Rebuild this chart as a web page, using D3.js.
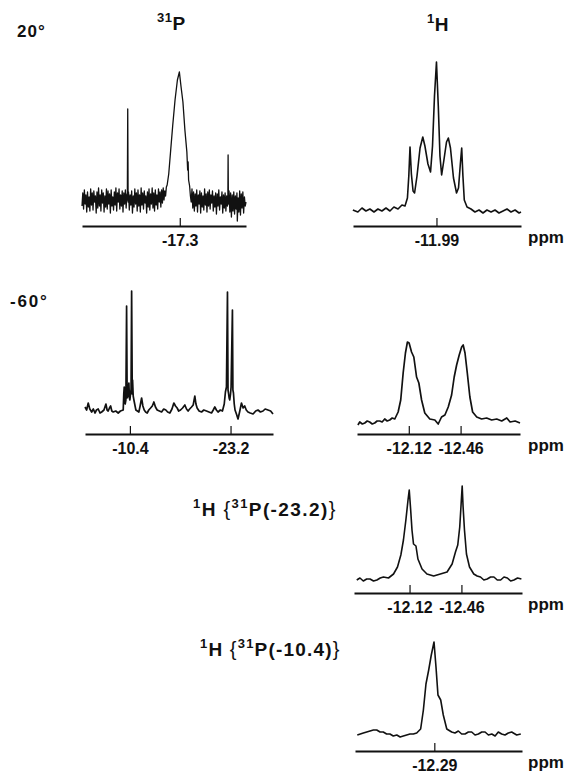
<!DOCTYPE html>
<html>
<head>
<meta charset="utf-8">
<script src="https://cdnjs.cloudflare.com/ajax/libs/d3/7.8.5/d3.min.js"></script>
<style>
  body { margin: 0; background: #fff; }
  svg { display: block; }
  text { font-family: 'Liberation Sans', Arial, sans-serif; font-weight: bold; fill: #111; font-size: 17px; }
  .axis text { font-size: 16px; }
  .axis path.domain { stroke: #111; stroke-width: 2; }
  .axis line { stroke: #111; stroke-width: 1.2; }
  .brace { font-weight: normal; }
</style>
</head>
<body>
<div id="chart"></div>
<script>
// Spectra: [ppm, intensity (a.u.)]

// 31P at 20 deg
var p31Warm = [
  [-4.9, 20], [-5.0, 33], [-5.1, 17], [-5.2, 36], [-5.3, 22], [-5.4, 31], [-5.5, 14], [-5.6, 34],
  [-5.7, 19], [-5.8, 29], [-5.9, 15], [-6.0, 37], [-6.1, 21], [-6.2, 33], [-6.3, 16], [-6.4, 35],
  [-6.5, 24], [-6.6, 30], [-6.7, 13], [-6.8, 34], [-6.9, 18], [-7.0, 38], [-7.1, 20], [-7.2, 31],
  [-7.3, 15], [-7.4, 36], [-7.5, 23], [-7.6, 33], [-7.7, 14], [-7.8, 30], [-7.9, 19], [-8.0, 37],
  [-8.1, 17], [-8.2, 35], [-8.3, 22], [-8.4, 32], [-8.5, 13], [-8.6, 36], [-8.7, 20], [-8.8, 29],
  [-8.9, 16], [-9.0, 34], [-9.1, 21], [-9.2, 38], [-9.3, 15], [-9.4, 33], [-9.5, 24], [-9.6, 37],
  [-9.7, 17], [-9.8, 31], [-9.9, 20], [-10.0, 35], [-10.1, 14], [-10.2, 33], [-10.3, 22], [-10.4, 36],
  [-10.5, 18], [-10.6, 32], [-10.65, 26], [-10.7, 117], [-10.75, 24], [-10.8, 34], [-10.9, 16], [-11.0, 31],
  [-11.1, 21], [-11.2, 35], [-11.3, 13], [-11.4, 30], [-11.5, 19], [-11.6, 37], [-11.7, 22], [-11.8, 33],
  [-11.9, 15], [-12.0, 36], [-12.1, 20], [-12.2, 31], [-12.3, 14], [-12.4, 38], [-12.5, 21], [-12.6, 33],
  [-12.7, 17], [-12.8, 35], [-12.9, 23], [-13.0, 30], [-13.1, 13], [-13.2, 34], [-13.3, 19], [-13.4, 37],
  [-13.5, 16], [-13.6, 32], [-13.7, 22], [-13.8, 38], [-13.9, 18], [-14.0, 33], [-14.1, 15], [-14.2, 36],
  [-14.3, 21], [-14.4, 31], [-14.5, 17], [-14.6, 37], [-14.7, 24], [-14.8, 34], [-14.9, 19], [-15.0, 36],
  [-15.1, 23], [-15.2, 38], [-15.3, 26], [-15.4, 35], [-15.5, 30], [-15.6, 39], [-15.7, 41], [-15.9, 52],
  [-16.15, 76], [-16.4, 100], [-16.7, 126], [-17.0, 146], [-17.25, 154], [-17.45, 140], [-17.7, 124], [-17.95, 96],
  [-18.2, 74], [-18.3, 56], [-18.36, 64], [-18.42, 46], [-18.55, 40], [-18.65, 30], [-18.75, 24], [-18.85, 37],
  [-18.95, 18], [-19.05, 34], [-19.15, 15], [-19.25, 32], [-19.35, 20], [-19.45, 36], [-19.55, 14], [-19.65, 31],
  [-19.75, 22], [-19.85, 35], [-19.95, 13], [-20.05, 33], [-20.15, 19], [-20.25, 30], [-20.35, 16], [-20.45, 37],
  [-20.55, 21], [-20.65, 32], [-20.75, 14], [-20.85, 34], [-20.95, 20], [-21.05, 36], [-21.15, 17], [-21.25, 31],
  [-21.35, 23], [-21.45, 35], [-21.55, 15], [-21.65, 30], [-21.75, 19], [-21.85, 33], [-21.95, 12], [-22.05, 32],
  [-22.15, 20], [-22.25, 36], [-22.35, 16], [-22.45, 29], [-22.55, 22], [-22.65, 34], [-22.75, 13], [-22.85, 31],
  [-22.95, 18], [-23.05, 33], [-23.15, 15], [-23.25, 30], [-23.35, 20], [-23.4, 28], [-23.43, 71], [-23.47, 22],
  [-23.55, 35], [-23.65, 14], [-23.75, 33], [-23.85, 9], [-23.95, 31], [-24.05, 15], [-24.15, 34], [-24.25, 12],
  [-24.35, 30], [-24.45, 17], [-24.55, 33], [-24.6, 5], [-24.7, 28], [-24.8, 14], [-24.9, 35], [-25.0, 11],
  [-25.1, 32], [-25.2, 18], [-25.3, 34], [-25.4, 13], [-25.5, 29], [-25.6, 20], [-25.7, 24]
]
var p31WarmTicks = [-17.3]
var p31WarmLabels = ['-17.3']

// 1H at 20 deg
var h1Warm = [
  [-11.44, 16], [-11.473, 14], [-11.5, 18], [-11.526, 15], [-11.552, 17], [-11.579, 14], [-11.605, 17],
  [-11.631, 15], [-11.658, 18], [-11.684, 15], [-11.71, 19], [-11.737, 17], [-11.763, 21], [-11.783, 20],
  [-11.799, 28], [-11.808, 50], [-11.816, 79], [-11.825, 52], [-11.836, 35], [-11.846, 33], [-11.862, 50],
  [-11.882, 78], [-11.9, 89], [-11.914, 80], [-11.934, 62], [-11.951, 54], [-11.964, 80], [-11.977, 130],
  [-11.99, 164], [-12.002, 120], [-12.013, 70], [-12.024, 51], [-12.039, 66], [-12.056, 84], [-12.068, 88],
  [-12.082, 78], [-12.102, 48], [-12.122, 33], [-12.135, 38], [-12.147, 62], [-12.156, 78], [-12.164, 50],
  [-12.173, 26], [-12.191, 19], [-12.217, 17], [-12.243, 14], [-12.27, 16], [-12.296, 13], [-12.322, 16],
  [-12.349, 14], [-12.375, 16], [-12.401, 13], [-12.428, 15], [-12.454, 17], [-12.48, 14], [-12.507, 16],
  [-12.533, 13], [-12.546, 14]
]
var h1WarmTicks = [-11.99]
var h1WarmLabels = ['-11.99']

// 31P at -60 deg
var p31Cold = [
  [-4.69, 27], [-4.9, 24], [-5.1, 31], [-5.3, 25], [-5.54, 22], [-5.75, 25], [-5.96, 21], [-6.15, 24],
  [-6.37, 25], [-6.6, 21], [-6.81, 22], [-7.1, 24], [-7.35, 30], [-7.5, 24], [-7.64, 23], [-7.8, 26],
  [-7.95, 28], [-8.1, 23], [-8.28, 22], [-8.6, 23], [-8.91, 21], [-9.2, 23], [-9.55, 24], [-9.62, 40],
  [-9.68, 47], [-9.8, 30], [-9.89, 34], [-9.98, 128], [-10.05, 36], [-10.11, 37], [-10.2, 44], [-10.27, 51],
  [-10.34, 36], [-10.4, 34], [-10.55, 45], [-10.62, 143], [-10.7, 40], [-10.74, 54], [-10.82, 38], [-10.91, 34],
  [-11.16, 24], [-11.35, 23], [-11.54, 22], [-11.7, 28], [-11.89, 36], [-12.05, 28], [-12.22, 24], [-12.4, 22],
  [-12.6, 21], [-12.8, 24], [-13.03, 26], [-13.25, 28], [-13.45, 32], [-13.65, 27], [-13.87, 24], [-14.15, 23],
  [-14.43, 22], [-14.7, 25], [-14.97, 24], [-15.2, 22], [-15.48, 21], [-15.75, 25], [-15.99, 31], [-16.2, 28],
  [-16.41, 26], [-16.6, 23], [-16.84, 24], [-17.1, 26], [-17.39, 29], [-17.6, 25], [-17.8, 23], [-18.0, 25],
  [-18.24, 27], [-18.45, 29], [-18.66, 38], [-18.8, 30], [-18.95, 26], [-19.2, 23], [-19.51, 22], [-19.8, 24],
  [-20.14, 23], [-20.45, 22], [-20.78, 21], [-21.0, 24], [-21.2, 27], [-21.4, 24], [-21.61, 22], [-21.9, 24],
  [-22.17, 23], [-22.4, 30], [-22.55, 42], [-22.68, 47], [-22.81, 142], [-22.88, 44], [-22.94, 41], [-23.02, 36],
  [-23.1, 34], [-23.2, 40], [-23.27, 47], [-23.44, 124], [-23.5, 44], [-23.57, 41], [-23.67, 30], [-23.77, 24],
  [-23.95, 20], [-24.15, 15], [-24.35, 22], [-24.59, 31], [-24.8, 26], [-25.0, 28], [-25.2, 24], [-25.42, 22],
  [-25.7, 21], [-26.06, 20], [-26.4, 23], [-26.69, 24], [-27.0, 22], [-27.33, 23], [-27.6, 25], [-27.96, 24],
  [-28.3, 23], [-28.6, 20]
]
var p31ColdTicks = [-10.4, -23.2]
var p31ColdLabels = ['-10.4', '-23.2']

// 1H at -60 deg
var h1Cold = [
  [-11.786, 9], [-11.798, 12], [-11.815, 10], [-11.831, 11], [-11.847, 13], [-11.863, 12], [-11.88, 10],
  [-11.896, 11], [-11.912, 13], [-11.929, 13], [-11.945, 12], [-11.962, 15], [-11.978, 13], [-11.995, 14],
  [-12.011, 16], [-12.028, 15], [-12.05, 22], [-12.067, 34], [-12.083, 61], [-12.098, 81], [-12.111, 92],
  [-12.122, 91], [-12.138, 82], [-12.153, 77], [-12.171, 57], [-12.186, 51], [-12.204, 34], [-12.225, 21],
  [-12.258, 15], [-12.291, 14], [-12.313, 10], [-12.335, 17], [-12.357, 19], [-12.379, 27], [-12.401, 39],
  [-12.418, 57], [-12.434, 69], [-12.451, 79], [-12.467, 87], [-12.477, 89], [-12.489, 81], [-12.504, 61],
  [-12.521, 37], [-12.539, 22], [-12.566, 17], [-12.598, 15], [-12.631, 16], [-12.664, 14], [-12.697, 15],
  [-12.73, 13], [-12.763, 16], [-12.785, 12], [-12.818, 13], [-12.85, 11]
]
var h1ColdTicks = [-12.12, -12.46]
var h1ColdLabels = ['-12.12', '-12.46']

// 1H with 31P(-23.2) decoupled
var h1DecA = [
  [-11.774, 13], [-11.795, 15], [-11.817, 12], [-11.839, 14], [-11.861, 14], [-11.884, 12], [-11.906, 13],
  [-11.928, 15], [-11.949, 16], [-11.982, 15], [-12.015, 19], [-12.041, 26], [-12.063, 38], [-12.08, 53],
  [-12.096, 73], [-12.11, 93], [-12.118, 103], [-12.127, 84], [-12.136, 63], [-12.146, 49], [-12.162, 47],
  [-12.175, 34], [-12.202, 24], [-12.234, 19], [-12.256, 18], [-12.278, 17], [-12.3, 18], [-12.322, 19],
  [-12.344, 20], [-12.366, 21], [-12.399, 29], [-12.421, 41], [-12.436, 48], [-12.449, 66], [-12.458, 89],
  [-12.465, 107], [-12.471, 86], [-12.48, 63], [-12.493, 39], [-12.513, 26], [-12.541, 19], [-12.563, 17],
  [-12.585, 16], [-12.607, 13], [-12.629, 14], [-12.651, 16], [-12.673, 16], [-12.695, 13], [-12.717, 13],
  [-12.739, 16], [-12.761, 15], [-12.783, 12], [-12.804, 13], [-12.828, 15], [-12.853, 14]
]
var h1DecATicks = [-12.12, -12.46]
var h1DecALabels = ['-12.12', '-12.46']

// 1H with 31P(-10.4) decoupled
var h1DecB = [
  [-11.783, 16], [-11.803, 17], [-11.823, 18], [-11.845, 19], [-11.867, 20], [-11.889, 21], [-11.911, 21],
  [-11.933, 19], [-11.954, 19], [-11.976, 17], [-11.998, 17], [-12.02, 15], [-12.043, 16], [-12.065, 14],
  [-12.086, 15], [-12.108, 16], [-12.13, 17], [-12.152, 17], [-12.174, 18], [-12.2, 22], [-12.218, 41],
  [-12.235, 67], [-12.253, 81], [-12.27, 96], [-12.288, 109], [-12.301, 84], [-12.314, 56], [-12.332, 51],
  [-12.349, 36], [-12.372, 22], [-12.404, 19], [-12.426, 18], [-12.448, 20], [-12.47, 17], [-12.492, 17],
  [-12.514, 19], [-12.536, 19], [-12.558, 16], [-12.58, 17], [-12.602, 19], [-12.624, 19], [-12.646, 16],
  [-12.668, 17], [-12.69, 15], [-12.711, 19], [-12.733, 17], [-12.755, 16], [-12.777, 18], [-12.799, 19],
  [-12.832, 16], [-12.859, 17]
]
var h1DecBTicks = [-12.29]
var h1DecBLabels = ['-12.29']

// layout for each panel (ppm window, pixel box)
var panels = [
  { data: p31Warm, ticks: p31WarmTicks, labels: p31WarmLabels, domain: [-4.9, -25.7], x0: 82, x1: 246, axisY: 226, stroke: 1.3, ppm: false },
  { data: h1Warm, ticks: h1WarmTicks, labels: h1WarmLabels, domain: [-11.441, -12.546], x0: 353, x1: 521, axisY: 226, stroke: 1.6, ppm: true },
  { data: p31Cold, ticks: p31ColdTicks, labels: p31ColdLabels, domain: [-4.69, -28.6], x0: 85, x1: 273, axisY: 434, stroke: 1.7, ppm: false },
  { data: h1Cold, ticks: h1ColdTicks, labels: h1ColdLabels, domain: [-11.78, -12.85], x0: 357, x1: 520, axisY: 434, stroke: 1.7, ppm: true },
  { data: h1DecA, ticks: h1DecATicks, labels: h1DecALabels, domain: [-11.756, -12.857], x0: 354, x1: 522, axisY: 593, stroke: 1.6, ppm: true },
  { data: h1DecB, ticks: h1DecBTicks, labels: h1DecBLabels, domain: [-11.768, -12.867], x0: 355, x1: 522, axisY: 751, stroke: 1.6, ppm: true }
]

var svg = d3
  .select('#chart')
  .append('svg')
  .attr('width', 570)
  .attr('height', 775)

panels.forEach(function(p) {
  var xPositionScale = d3.scaleLinear().domain(p.domain).range([p.x0, p.x1])
  var yPositionScale = d3
    .scaleLinear()
    .domain([0, 160])
    .range([p.axisY, p.axisY - 160])

  var line = d3
    .line()
    .x(d => xPositionScale(d[0]))
    .y(d => yPositionScale(d[1]))

  svg
    .append('path')
    .datum(p.data)
    .attr('d', line)
    .attr('fill', 'none')
    .attr('stroke', '#111')
    .attr('stroke-width', p.stroke)
    .attr('stroke-linejoin', 'round')

  var xAxis = d3
    .axisBottom(xPositionScale)
    .tickValues(p.ticks)
    .tickFormat((d, i) => p.labels[i])
    .tickSizeInner(-8)
    .tickSizeOuter(0)
    .tickPadding(9)

  svg
    .append('g')
    .attr('class', 'axis')
    .attr('transform', 'translate(0,' + p.axisY + ')')
    .call(xAxis)
    .attr('font-size', null)
    .attr('font-family', null)

  if (p.ppm) {
    svg
      .append('text')
      .attr('x', 528)
      .attr('y', p.axisY + 17)
      .text('ppm')
  }
})

// labels with superscripts
function addLabel(x, y, parts, size, spacing) {
  var t = svg
    .append('text')
    .attr('x', x)
    .attr('y', y)
    .style('font-size', size + 'px')
    .style('letter-spacing', spacing + 'px')
  var shift = 0
  parts.forEach(function(part) {
    var dy = 0
    if (part.sup && shift === 0) { dy = -8; shift = -8 }
    if (!part.sup && shift !== 0) { dy = 8; shift = 0 }
    var s = t.append('tspan').attr('dy', dy).text(part.t)
    if (part.sup) s.style('font-size', '13px')
    if (part.brace) s.attr('class', 'brace').style('font-size', (size + 1) + 'px')
  })
  return t
}

addLabel(17, 37, [{ t: '20°' }], 17, 1)
addLabel(10, 307, [{ t: '-60°' }], 17, 1.8)
addLabel(157, 30, [{ t: '31', sup: true }, { t: 'P' }], 19, 0.5)
addLabel(427, 31, [{ t: '1', sup: true }, { t: 'H' }], 19, 0.5)
addLabel(193, 516, [{ t: '1', sup: true }, { t: 'H ' }, { t: '{', brace: true }, { t: '31', sup: true }, { t: 'P(-23.2)' }, { t: '}', brace: true }], 19, 1.4)
addLabel(200, 656, [{ t: '1', sup: true }, { t: 'H ' }, { t: '{', brace: true }, { t: '31', sup: true }, { t: 'P(-10.4)' }, { t: '}', brace: true }], 19, 1.2)
</script>
</body>
</html>
